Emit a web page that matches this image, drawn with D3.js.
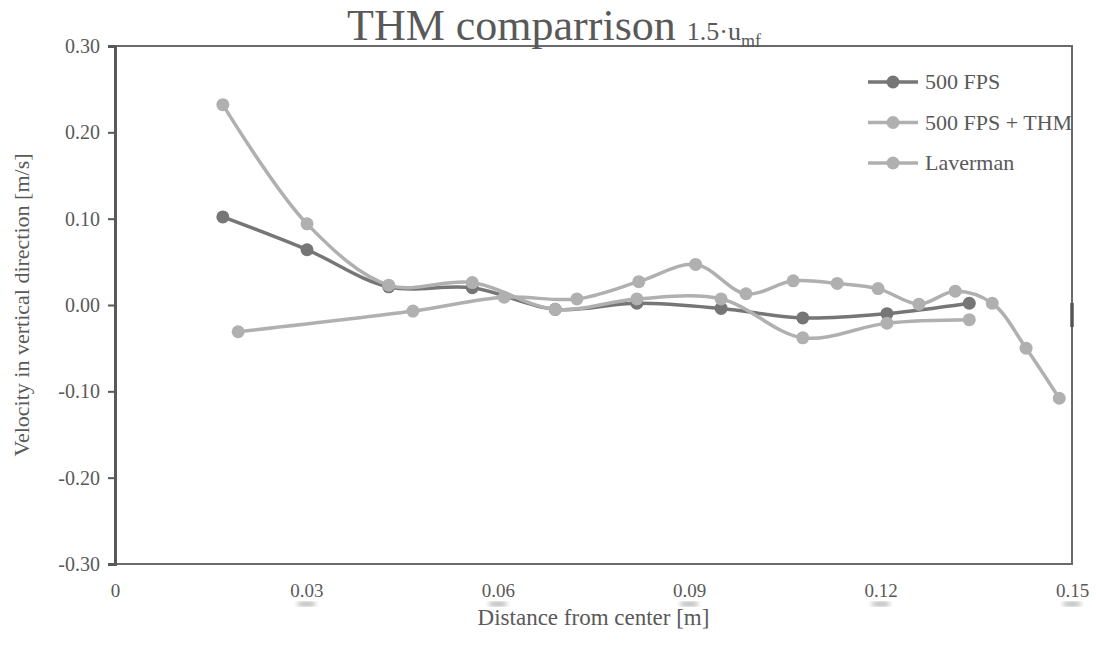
<!DOCTYPE html>
<html>
<head>
<meta charset="utf-8">
<script src="https://cdn.jsdelivr.net/npm/d3@7"></script>
<style>
  body { margin: 0; background: #fff; }
  svg text { font-family: "Liberation Serif", "Times New Roman", serif; fill: #595959; }
</style>
</head>
<body>
<div id="chart"></div>
<script>
// data
const xFps = [0.0169, 0.0301, 0.0429, 0.056, 0.069, 0.0818, 0.095, 0.1078, 0.121, 0.1339];
const fps500 = [0.102, 0.064, 0.021, 0.020, -0.005, 0.002, -0.004, -0.015, -0.010, 0.002];
const fps500Thm = [0.232, 0.094, 0.023, 0.026, -0.005, 0.007, 0.007, -0.038, -0.021, -0.017];
const xLaverman = [0.0193, 0.0467, 0.061, 0.0724, 0.0821, 0.091, 0.0989, 0.1063, 0.1132, 0.1196, 0.126, 0.1317, 0.1375, 0.1428, 0.148];
const laverman = [-0.031, -0.007, 0.009, 0.007, 0.027, 0.047, 0.013, 0.028, 0.025, 0.019, 0.001, 0.016, 0.002, -0.050, -0.108];

const seriesNames = ["500 FPS", "500 FPS + THM", "Laverman"];
const xTicks = [0, 0.03, 0.06, 0.09, 0.12, 0.15];
const xTickLabels = ["0", "0.03", "0.06", "0.09", "0.12", "0.15"];
const yTicks = [-0.3, -0.2, -0.1, 0, 0.1, 0.2, 0.3];
const yTickLabels = ["-0.30", "-0.20", "-0.10", "0.00", "0.10", "0.20", "0.30"];

const width = 1096, height = 645;
const margins = { top: 46, bottom: 81, left: 115, right: 24 };
const colors = ["#767676", "#b0b0b0", "#b0b0b0"];

const svg = d3.select("#chart").append("svg")
    .attr("width", width)
    .attr("height", height);

svg.append("rect").attr("width", width).attr("height", height).attr("fill", "#fff");

const xScale = d3.scaleLinear()
    .domain([0, 0.15])
    .range([margins.left, width - margins.right]);

const yScale = d3.scaleLinear()
    .domain([-0.3, 0.3])
    .range([height - margins.bottom, margins.top]);

// plot frame
svg.append("rect")
    .attr("x", xScale(0))
    .attr("y", yScale(0.3))
    .attr("width", xScale(0.15) - xScale(0))
    .attr("height", yScale(-0.3) - yScale(0.3))
    .attr("fill", "none")
    .attr("stroke", "#6a6a6a")
    .attr("stroke-width", 2);

// darker stub on the right edge around zero
svg.append("line")
    .attr("x1", xScale(0.15)).attr("x2", xScale(0.15))
    .attr("y1", yScale(0) - 2).attr("y2", yScale(0) + 22)
    .attr("stroke", "#555")
    .attr("stroke-width", 3.5);

// y axis
const yAxis = d3.axisLeft(yScale)
    .tickValues(yTicks)
    .tickSize(7)
    .tickPadding(8)
    .tickFormat((d, i) => yTickLabels[i]);

svg.append("g")
    .attr("transform", `translate(${xScale(0)},0)`)
    .call(yAxis)
    .call(g => g.select(".domain").attr("stroke", "#595959").attr("stroke-width", 3))
    .call(g => g.selectAll(".tick line").attr("stroke", "#595959").attr("stroke-width", 2))
    .call(g => g.selectAll(".tick text")
        .attr("fill", "#595959")
        .style("font-size", "20px")
        .style("font-family", "Liberation Serif"));

// x axis (labels only)
const xAxis = d3.axisBottom(xScale)
    .tickValues(xTicks)
    .tickSize(0)
    .tickPadding(20)
    .tickFormat((d, i) => xTickLabels[i]);

svg.append("g")
    .attr("transform", `translate(0,${yScale(-0.3)})`)
    .call(xAxis)
    .call(g => g.select(".domain").remove())
    .call(g => g.selectAll(".tick text")
        .attr("fill", "#595959")
        .style("font-size", "19px")
        .style("font-family", "Liberation Serif"));

// faint smudges under the x tick labels
const blur = svg.append("defs").append("filter").attr("id", "smudge");
blur.append("feGaussianBlur").attr("stdDeviation", 2);

svg.append("g")
    .selectAll("ellipse")
    .data(xTicks.slice(1))
    .join("ellipse")
    .attr("cx", d => xScale(d))
    .attr("cy", yScale(-0.3) + 40)
    .attr("rx", 10)
    .attr("ry", 2)
    .attr("fill", "#a8a8a8")
    .attr("filter", "url(#smudge)");

// axis titles
svg.append("text")
    .attr("x", xScale(0.075))
    .attr("y", 625)
    .attr("text-anchor", "middle")
    .style("font-size", "23px")
    .text("Distance from center [m]");

svg.append("text")
    .attr("transform", `translate(29,${yScale(0)}) rotate(-90)`)
    .attr("text-anchor", "middle")
    .style("font-size", "22px")
    .text("Velocity in vertical direction [m/s]");

// title
const title = svg.append("text")
    .attr("x", 554)
    .attr("y", 40)
    .attr("text-anchor", "middle")
    .style("font-size", "44px");
title.append("tspan").text("THM comparrison ");
title.append("tspan").style("font-size", "26px").text("1.5·u");
title.append("tspan").style("font-size", "18px").attr("dy", 7).text("mf");

// series
const series = [
    { name: seriesNames[0], xs: xFps, ys: fps500, color: colors[0] },
    { name: seriesNames[1], xs: xFps, ys: fps500Thm, color: colors[1] },
    { name: seriesNames[2], xs: xLaverman, ys: laverman, color: colors[2] }
];

const line = d3.line()
    .x(d => xScale(d[0]))
    .y(d => yScale(d[1]))
    .curve(d3.curveCatmullRom.alpha(0.5));

const groups = svg.selectAll("g.series")
    .data(series)
    .join("g")
    .attr("class", "series");

groups.append("path")
    .attr("d", d => line(d.xs.map((x, i) => [x, d.ys[i]])))
    .attr("fill", "none")
    .attr("stroke", d => d.color)
    .attr("stroke-width", 3.5);

groups.selectAll("circle")
    .data(d => d.xs.map((x, i) => ({ x: x, y: d.ys[i], color: d.color })))
    .join("circle")
    .attr("cx", d => xScale(d.x))
    .attr("cy", d => yScale(d.y))
    .attr("r", 6.5)
    .attr("fill", d => d.color);

// legend
const legend = svg.append("g")
    .selectAll("g")
    .data(series)
    .join("g")
    .attr("transform", (d, i) => `translate(868,${82 + i * 40.5})`);

legend.append("line")
    .attr("x1", 0).attr("x2", 50)
    .attr("stroke", d => d.color)
    .attr("stroke-width", 3.5);

legend.append("circle")
    .attr("cx", 25)
    .attr("r", 6.5)
    .attr("fill", d => d.color);

legend.append("text")
    .attr("x", 57)
    .attr("y", 7)
    .style("font-size", "22px")
    .text(d => d.name);
</script>
</body>
</html>
